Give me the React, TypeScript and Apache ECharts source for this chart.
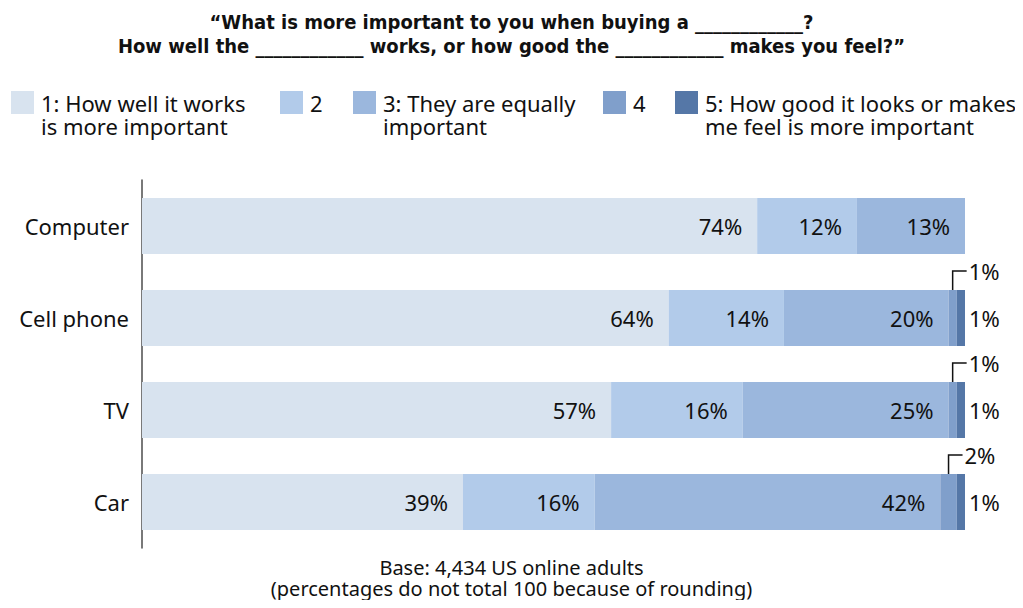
import React, { useEffect, useRef } from "react";
import * as echarts from "echarts";

const categories = ["Computer", "Cell phone", "TV", "Car"];
const seriesNames = [
  "1: How well it works\nis more important",
  "2",
  "3: They are equally\nimportant",
  "4",
  "5: How good it looks or makes\nme feel is more important",
];
const works = [74, 64, 57, 39];
const lean2 = [12, 14, 16, 16];
const equal = [13, 20, 25, 42];
const lean4 = [0, 1, 1, 2];
const looks = [0, 1, 1, 1];
const colors = ["#d8e3ef", "#b2cbea", "#9bb7dd", "#809fcb", "#5577a7"];

const titleText =
  "\u201CWhat is more important to you when buying a ____________?\nHow well the ____________ works, or how good the ____________ makes you feel?\u201D";
const footText = "Base: 4,434 US online adults\n(percentages do not total 100 because of rounding)";

const legendLefts = [11, 280, 353, 603, 675];

const FONT = "'Noto Sans', 'Open Sans', sans-serif";
const TITLE_FONT = "'Liberation Sans Narrow', 'DejaVu Sans Condensed', Roboto, sans-serif";

function iconUrl(color: string, h: number) {
  return (
    "image://data:image/svg+xml;utf8," +
    encodeURIComponent(
      `<svg xmlns='http://www.w3.org/2000/svg' width='25' height='${h}' viewBox='0 0 25 ${h}'><rect x='0' y='0' width='23' height='23' fill='${color}'/></svg>`
    )
  );
}

export default function App() {
  const ref = useRef<HTMLDivElement>(null);
  useEffect(() => {
    if (!ref.current) return;
    const chart = echarts.init(ref.current, undefined, { renderer: "svg" });
    const raw = [works, lean2, equal, lean4, looks];
    const totals = categories.map((_, i) => raw.reduce((s, arr) => s + arr[i], 0));
    const shares = raw.map((arr) => arr.map((v, i) => (v / totals[i]) * 100));

    const barSeries = raw.map((arr, k) => {
      let label: any = { show: false };
      if (k <= 2) {
        label = {
          show: true,
          position: "insideRight",
          distance: 15,
          fontSize: 22,
          fontFamily: FONT,
          color: "#111",
          formatter: (p: any) => (arr[p.dataIndex] > 0 ? arr[p.dataIndex] + "%" : ""),
        };
      } else if (k === 4) {
        label = {
          show: true,
          position: "right",
          distance: 4,
          fontSize: 22,
          fontFamily: FONT,
          color: "#111",
          formatter: (p: any) => (arr[p.dataIndex] > 0 ? arr[p.dataIndex] + "%" : ""),
        };
      }
      return {
        type: "bar",
        name: seriesNames[k],
        stack: "total",
        barWidth: 56,
        itemStyle: { color: colors[k] },
        label,
        data: shares[k],
      };
    });

    const bracketData = categories
      .map((_, i) => {
        const before = shares[0][i] + shares[1][i] + shares[2][i];
        return { x: before + shares[3][i] / 2, i, raw: lean4[i] };
      })
      .filter((d) => d.raw > 0)
      .map((d) => ({ value: [d.x, d.i, d.raw] }));

    const legends = seriesNames.map((name, k) => {
      const multi = name.indexOf("\n") >= 0;
      const h = multi ? 46 : 23;
      return {
        data: [name],
        left: legendLefts[k],
        top: 91,
        padding: 0,
        itemWidth: 25,
        itemHeight: h,
        icon: iconUrl(colors[k], h),
        selectedMode: false,
        textStyle: {
          fontSize: 22,
          lineHeight: 23,
          fontFamily: FONT,
          color: "#111",
        },
      };
    });

    chart.setOption({
      animation: false,
      title: [
        {
          text: titleText,
          left: "center",
          top: 10,
          padding: 0,
          textStyle: {
            fontSize: 20,
            lineHeight: 24,
            fontWeight: "bold",
            fontFamily: TITLE_FONT,
            color: "#111",
          },
        },
        {
          text: footText,
          left: "center",
          top: 557,
          padding: 0,
          textStyle: {
            fontSize: 20,
            lineHeight: 21,
            fontWeight: "normal",
            fontFamily: FONT,
            color: "#111",
          },
        },
      ],
      legend: legends,
      grid: { left: 142, right: 58, top: 180, bottom: 60, containLabel: false },
      xAxis: { type: "value", min: 0, max: 100, show: false },
      yAxis: {
        type: "category",
        data: categories,
        inverse: true,
        axisTick: { show: false },
        axisLine: { show: true, lineStyle: { color: "#4d4d4d", width: 1.5 } },
        axisLabel: { fontSize: 22, fontFamily: FONT, color: "#111", margin: 13 },
        splitLine: { show: false },
      },
      series: [
        ...barSeries,
        {
          type: "custom",
          name: "bracket",
          coordinateSystem: "cartesian2d",
          data: bracketData,
          encode: { x: 0, y: 1 },
          silent: true,
          z: 5,
          renderItem: (params: any, api: any) => {
            const pt = api.coord([api.value(0), api.value(1)]);
            const x = pt[0];
            const top = pt[1] - 28;
            const y = top - 19;
            return {
              type: "group",
              children: [
                {
                  type: "polyline",
                  shape: { points: [[x, top], [x, y], [x + 14, y]] },
                  style: { stroke: "#111", lineWidth: 1.5, fill: "none" },
                },
                {
                  type: "text",
                  x: x + 16,
                  y: y,
                  style: {
                    text: api.value(2) + "%",
                    fontSize: 22,
                    fontFamily: FONT,
                    fill: "#111",
                    verticalAlign: "middle",
                    align: "left",
                  },
                },
              ],
            };
          },
        },
      ],
    });
    return () => chart.dispose();
  }, []);
  return <div ref={ref} style={{ width: 1023, height: 608, margin: -8 }} />;
}
